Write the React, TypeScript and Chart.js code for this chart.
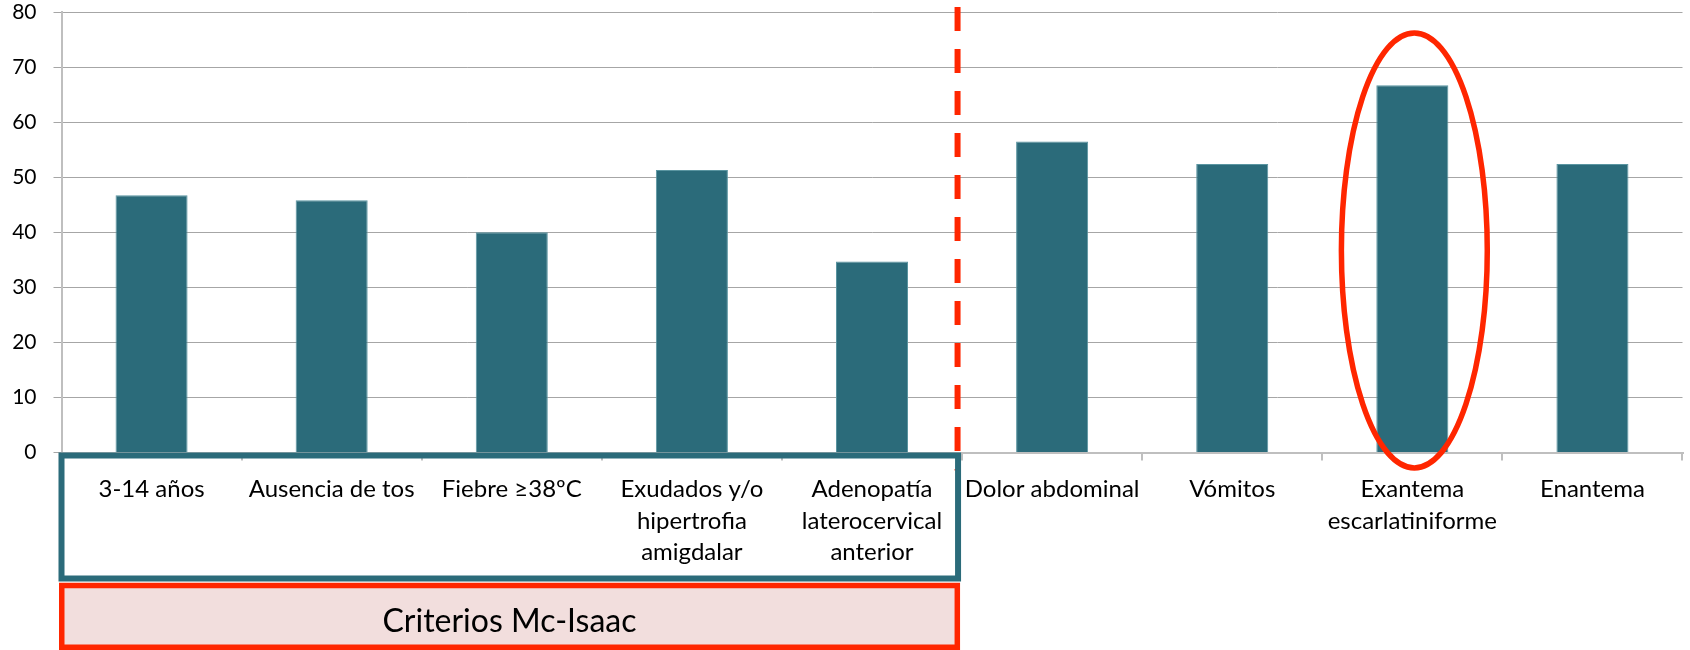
import React, { useEffect, useRef } from "react";
import { Chart, registerables } from "chart.js";

Chart.register(...registerables);

// ---- Data ----
const categories: (string | string[])[] = [
  "3-14 años",
  "Ausencia de tos",
  "Fiebre ≥38ºC",
  ["Exudados y/o", "hipertrofia", "amigdalar"],
  ["Adenopatía", "laterocervical", "anterior"],
  "Dolor abdominal",
  "Vómitos",
  ["Exantema", "escarlatiniforme"],
  "Enantema",
];
const values = [46.7, 45.8, 40.0, 51.3, 34.7, 56.5, 52.4, 66.7, 52.4];
const groupLabel = "Criterios Mc-Isaac";
const groupSize = 5; // first five categories are the Mc-Isaac criteria
const highlightIndex = 7; // circled category
const yMin = 0;
const yMax = 80;
const yStep = 10;

// ---- Styles ----
const TEAL = "#2B6B7A";
const TEAL_EDGE = "#5A95A1";
const RED = "#FF2600";
const PINK = "#F2DEDD";
const FONT = "Lato";

const overlayPlugin = {
  id: "overlay",
  afterDraw(chart: any) {
    const { ctx, chartArea, scales } = chart;
    const x = scales.x;
    const y = scales.y;
    const catW = (x.right - x.left) / categories.length;
    const boundary = x.left + groupSize * catW;
    const base = chartArea.bottom;
    ctx.save();

    // dashed separator
    ctx.strokeStyle = RED;
    ctx.lineWidth = 6;
    ctx.setLineDash([24, 18]);
    ctx.beginPath();
    ctx.moveTo(boundary - 4.5, chartArea.top - 5);
    ctx.lineTo(boundary - 4.5, base + 18);
    ctx.stroke();
    ctx.setLineDash([]);

    // teal box around the criteria labels
    ctx.strokeStyle = TEAL;
    ctx.lineWidth = 6;
    ctx.strokeRect(x.left, base + 3, boundary - 4 - x.left, 123);

    // red/pink group label box
    const rl = x.left + 0.25;
    const rt = base + 133;
    const rw = boundary - 4.75 - rl;
    const rh = 61.75;
    ctx.fillStyle = PINK;
    ctx.fillRect(rl, rt, rw, rh);
    ctx.strokeStyle = RED;
    ctx.lineWidth = 5.5;
    ctx.strokeRect(rl, rt, rw, rh);

    ctx.fillStyle = "#000";
    ctx.font = `32px ${FONT}`;
    ctx.textAlign = "center";
    ctx.textBaseline = "middle";
    ctx.fillText(groupLabel, rl + rw / 2, base + 169);

    // ellipse around highlighted bar
    const cx = x.getPixelForValue(highlightIndex) + 2;
    const cy = y.getPixelForValue(36.7);
    const ry = y.getPixelForValue(0) - y.getPixelForValue(39.5);
    const rx = catW * 0.405;
    ctx.strokeStyle = RED;
    ctx.lineWidth = 5.5;
    ctx.beginPath();
    ctx.ellipse(cx, cy, rx, ry, 0, 0, Math.PI * 2);
    ctx.stroke();

    ctx.restore();
  },
};

export default function App() {
  const canvasRef = useRef<HTMLCanvasElement | null>(null);

  useEffect(() => {
    if (!canvasRef.current) return;
    const chart = new Chart(canvasRef.current, {
      type: "bar",
      data: {
        labels: categories,
        datasets: [
          {
            data: values,
            backgroundColor: TEAL,
            borderColor: TEAL_EDGE,
            borderWidth: 1,
            borderSkipped: "bottom",
            barPercentage: 0.4,
            categoryPercentage: 1.0,
          },
        ],
      },
      options: {
        animation: false,
        responsive: false,
        devicePixelRatio: 1,
        layout: { autoPadding: false, padding: { top: 12, right: 7.5, left: 0, bottom: 0 } },
        plugins: {
          legend: { display: false },
          tooltip: { enabled: false },
        },
        scales: {
          x: {
            grid: {
              display: true,
              drawOnChartArea: false,
              drawTicks: true,
              tickLength: 8,
              color: "#BFBFBF",
              lineWidth: 2,
              offset: true,
            },
            border: { display: true, color: "#BFBFBF", width: 2 },
            ticks: {
              color: "#000",
              font: { family: FONT, size: 24, lineHeight: 1.32 },
              padding: 13,
              maxRotation: 0,
              minRotation: 0,
              autoSkip: false,
            },
            afterFit(scale: any) {
              scale.height = 197.5;
              scale.paddingLeft = 0;
              scale.paddingRight = 0;
            },
          },
          y: {
            min: yMin,
            max: yMax,
            ticks: {
              stepSize: yStep,
              color: "#000",
              font: { family: FONT, size: 21, lineHeight: 1 },
              padding: 17,
            },
            grid: { color: "#A6A6A6", lineWidth: 1, tickLength: 8, drawTicks: true },
            border: { color: "#BFBFBF", width: 2 },
            afterFit(scale: any) {
              scale.width = 61.5;
              scale.paddingTop = 0;
              scale.paddingBottom = 0;
            },
          },
        },
      },
      plugins: [overlayPlugin],
    });
    return () => chart.destroy();
  }, []);

  return (
    <canvas
      ref={canvasRef}
      width={1690}
      height={650}
      style={{ position: "fixed", left: 0, top: 0, display: "block", width: 1690, height: 650, background: "#fff" }}
    />
  );
}
